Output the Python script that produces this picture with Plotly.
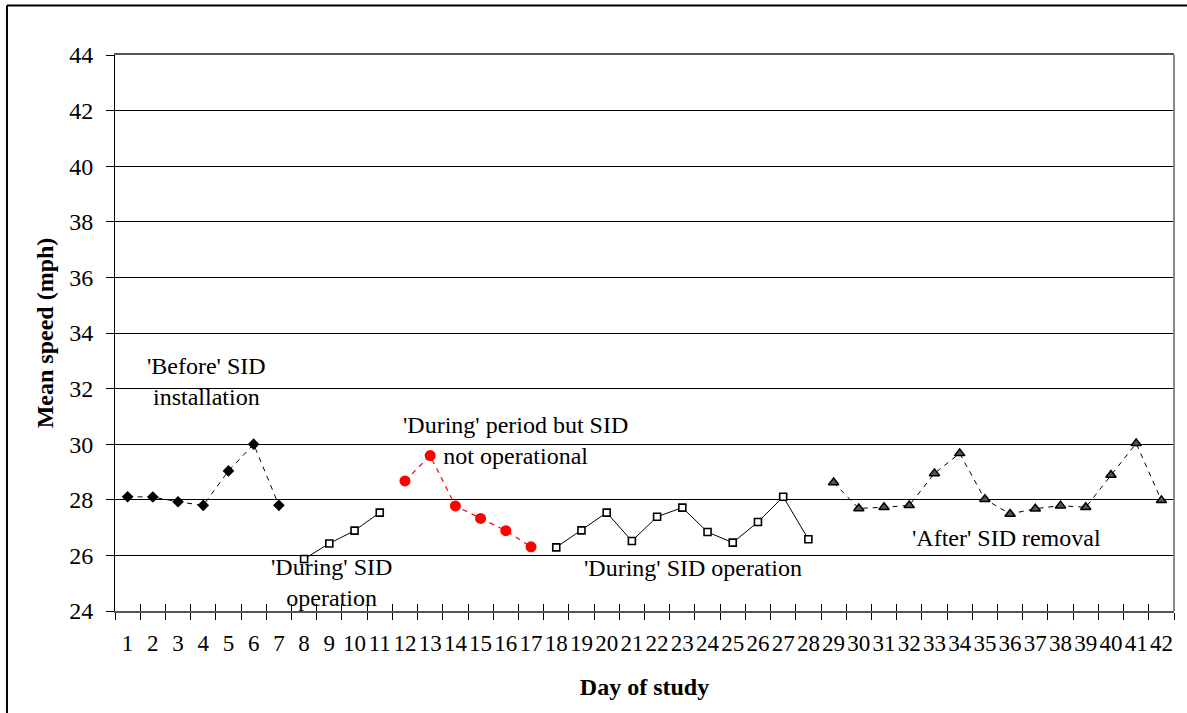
import plotly.graph_objects as go

# Mean speed by day of study, split by study period
before_days = [1, 2, 3, 4, 5, 6, 7]
before_speed = [28.11, 28.10, 27.93, 27.80, 29.04, 30.00, 27.80]

during1_days = [8, 9, 10, 11]
during1_speed = [25.87, 26.43, 26.89, 27.54]

offline_days = [12, 13, 14, 15, 16, 17]
offline_speed = [28.68, 29.59, 27.78, 27.33, 26.89, 26.31]

during2_days = [18, 19, 20, 21, 22, 23, 24, 25, 26, 27, 28]
during2_speed = [26.29, 26.90, 27.54, 26.52, 27.39, 27.72, 26.84, 26.46, 27.20, 28.11, 26.58]

after_days = [29, 30, 31, 32, 33, 34, 35, 36, 37, 38, 39, 40, 41, 42]
after_speed = [28.62, 27.69, 27.73, 27.80, 28.95, 29.67, 28.02, 27.49, 27.68, 27.79, 27.73, 28.89, 30.03, 27.98]

day_labels = [str(d) for d in range(1, 43)]
y_ticks = list(range(24, 45, 2))

FONT = "Liberation Serif"
DASH = "5px,5px"

fig = go.Figure()

fig.add_trace(go.Scatter(
    x=before_days, y=before_speed, mode="lines+markers",
    line=dict(color="black", width=1, dash=DASH),
    marker=dict(symbol="diamond", size=9, color="black"),
    name="Before"))

for days, speeds in [(during1_days, during1_speed), (during2_days, during2_speed)]:
    fig.add_trace(go.Scatter(
        x=days, y=speeds, mode="lines+markers",
        line=dict(color="black", width=1),
        marker=dict(symbol="square", size=7, color="white",
                    line=dict(color="black", width=1.6)),
        name="During"))

fig.add_trace(go.Scatter(
    x=offline_days, y=offline_speed, mode="lines+markers",
    line=dict(color="#ff0000", width=1.2, dash=DASH),
    marker=dict(symbol="circle", size=11, color="#ff0000"),
    name="During, not operational"))

fig.add_trace(go.Scatter(
    x=after_days, y=after_speed, mode="lines+markers",
    line=dict(color="black", width=1, dash=DASH),
    marker=dict(symbol="triangle-up", size=9, color="#555555",
                line=dict(color="black", width=1.5)),
    name="After"))

# Overlay axis that draws the upper half of the day-boundary ticks
fig.add_trace(go.Scatter(x=[0.5, 42.5], y=[24, 24], mode="lines",
                         line=dict(width=0), xaxis="x2",
                         hoverinfo="skip", showlegend=False))

boundaries = [i + 0.5 for i in range(0, 43)]

notes = [
    (4.11, 32.27, "'Before' SID<br>installation"),
    (16.4, 30.13, "'During' period but SID<br>not operational"),
    (9.1, 25.03, "'During' SID<br>operation"),
    (23.43, 25.53, "'During' SID operation"),
    (35.84, 26.64, "'After' SID removal"),
]
for x, y, t in notes:
    fig.add_annotation(x=x, y=y, text=t, showarrow=False,
                       xanchor="center", yanchor="middle",
                       font=dict(family=FONT, size=24, color="black"))

fig.update_layout(
    width=1187, height=713,
    margin=dict(l=115, r=13, t=55, b=102),
    paper_bgcolor="white", plot_bgcolor="white",
    showlegend=False,
    font=dict(family=FONT, color="black"),
    xaxis=dict(
        range=[0.5, 42.5], tickmode="array",
        tickvals=list(range(1, 43)), ticktext=day_labels,
        ticks="", ticklabelstandoff=10, tickangle=0,
        tickfont=dict(family=FONT, size=23, color="black"),
        showgrid=False, zeroline=False,
        showline=True, linecolor="#555555", linewidth=2, mirror=True,
        minor=dict(tickmode="array", tickvals=boundaries, ticks="outside",
                   ticklen=7, tickcolor="black", tickwidth=1, showgrid=False),
        title=dict(text="<b>Day of study</b>", standoff=24,
                   font=dict(family=FONT, size=24, color="black")),
        automargin=False,
    ),
    xaxis2=dict(
        range=[0.5, 42.5], overlaying="x", anchor="y", side="bottom",
        tickmode="array", tickvals=boundaries, ticks="inside",
        ticklen=7, tickcolor="black", showticklabels=False,
        showgrid=False, zeroline=False, showline=False,
    ),
    yaxis=dict(
        range=[24, 44], tickmode="array", tickvals=y_ticks,
        ticks="outside", ticklen=8, tickcolor="black",
        ticklabelstandoff=8,
        tickfont=dict(family=FONT, size=24, color="black"),
        showgrid=True, gridcolor="black", gridwidth=1,
        zeroline=False, showline=True, linecolor="black", linewidth=1,
        title=dict(text="<b>Mean speed (mph)</b>", standoff=8,
                   font=dict(family=FONT, size=24, color="black")),
        automargin=False,
    ),
    shapes=[
        # grey right edge of the plotting area
        dict(type="line", xref="paper", yref="paper", x0=1, x1=1, y0=0, y1=1,
             line=dict(color="#888888", width=2)),
        # outer chart border (left and top)
        dict(type="line", xref="paper", yref="paper", x0=-0.102, x1=-0.102,
             y0=-0.2, y1=1.089, line=dict(color="black", width=2)),
        dict(type="line", xref="paper", yref="paper", x0=-0.102, x1=1.2,
             y0=1.089, y1=1.089, line=dict(color="black", width=2)),
    ],
)

fig.write_html("out.html")
